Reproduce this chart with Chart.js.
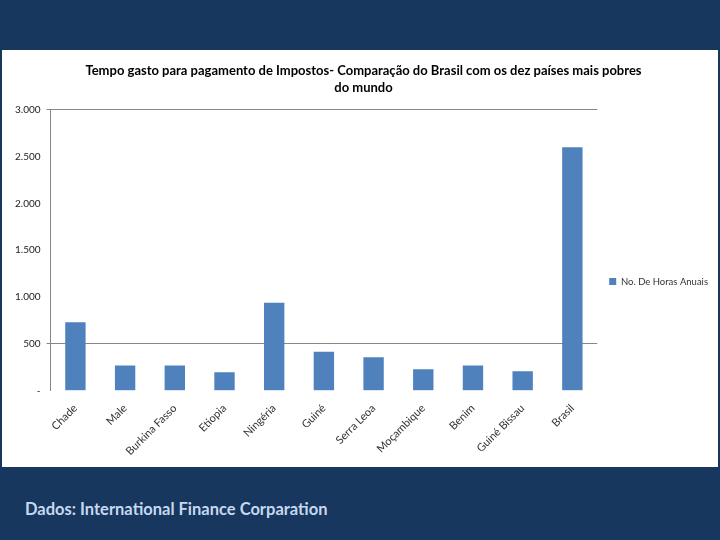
<!DOCTYPE html>
<html>
<head>
<meta charset="utf-8">
<script src="https://cdn.jsdelivr.net/npm/chart.js@4/dist/chart.umd.min.js"></script>
<style>
  html, body { margin: 0; padding: 0; }
  body { width: 720px; height: 540px; background: #17375e; position: relative; overflow: hidden; font-family: Lato, 'Open Sans', sans-serif; }
  #panel { position: absolute; left: 2px; top: 50px; width: 716px; height: 417px; background: #fff; }
  #footer { position: absolute; left: 25px; top: 499px; color: #c6d9f1; font-weight: bold; font-size: 16.5px; }
</style>
</head>
<body>
<div id="panel"><canvas id="chart" width="716" height="417"></canvas></div>
<div id="footer">Dados: International Finance Corparation</div>
<script>
const categories = ['Chade', 'Male', 'Burkina Fasso', 'Etiopia', 'Ningéria', 'Guiné', 'Serra Leoa', 'Moçambique', 'Benim', 'Guiné Bissau', 'Brasil'];
const horasAnuais = [732, 270, 270, 198, 938, 416, 357, 230, 270, 208, 2600];
const seriesLabel = 'No. De Horas Anuais';
const yTicks = [0, 500, 1000, 1500, 2000, 2500, 3000];
const gridAt = [500, 3000];

const ctx = document.getElementById('chart').getContext('2d');
new Chart(ctx, {
  type: 'bar',
  data: {
    labels: categories,
    datasets: [{
      label: seriesLabel,
      data: horasAnuais,
      backgroundColor: '#4f81bd',
      barPercentage: 0.82,
      categoryPercentage: 0.5,
    }],
  },
  options: {
    responsive: false,
    animation: false,
    layout: { padding: { left: 7, right: 0, bottom: 6 } },
    plugins: {
      title: {
        display: true,
        text: ['Tempo gasto para pagamento de Impostos- Comparação do Brasil com os dez países mais pobres', 'do mundo'],
        color: '#000',
        font: { family: 'Lato', size: 13, weight: 'bold', lineHeight: 1.3 },
        padding: { top: 12, bottom: 14 },
      },
      legend: {
        position: 'right',
        title: { display: true, text: ' ', font: { size: 10, lineHeight: 1.2 }, padding: { top: 40 } },
        labels: {
          boxWidth: 7,
          boxHeight: 7,
          padding: 12,
          color: '#333',
          font: { family: 'Lato', size: 9.5 },
        },
      },
      tooltip: { enabled: false },
    },
    scales: {
      x: {
        grid: { display: false },
        border: { display: false },
        ticks: {
          color: '#333',
          font: { family: 'Lato', size: 11 },
          maxRotation: 45,
          minRotation: 45,
        },
      },
      y: {
        min: 0,
        max: 3000,
        afterBuildTicks: (axis) => { axis.ticks = yTicks.map(v => ({ value: v })); },
        border: { display: true, color: '#868686' },
        grid: {
          color: (c) => (c.tick && gridAt.includes(c.tick.value)) ? '#868686' : 'rgba(0,0,0,0)',
          tickLength: 4,
        },
        ticks: {
          color: '#222',
          padding: 6,
          font: { family: 'Lato', size: 10 },
          callback: (v) => v === 0 ? '-' : v.toLocaleString('pt-BR'),
        },
      },
    },
  },
});
</script>
</body>
</html>
